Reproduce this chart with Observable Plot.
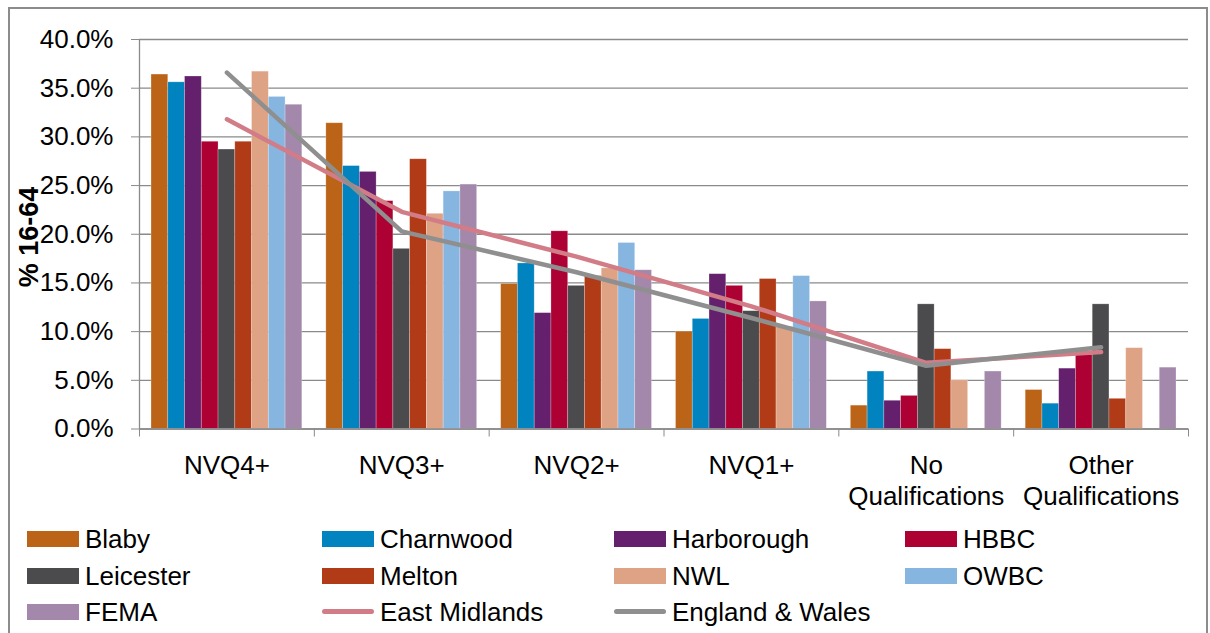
<!DOCTYPE html>
<html><head><meta charset="utf-8">
<script src="https://cdn.jsdelivr.net/npm/d3@7"></script>
<script src="https://cdn.jsdelivr.net/npm/@observablehq/plot@0.6"></script>
<style>
html,body{margin:0;padding:0;background:#fff;}
body{width:1210px;height:633px;overflow:hidden;position:relative;font-family:"Liberation Sans",Arial,Helvetica,sans-serif;}
#frame{position:absolute;left:8px;top:7px;width:1200px;height:700px;border:2px solid #8c8c8c;box-sizing:border-box;}
#chart{position:absolute;left:0;top:0;}
#ylabel{position:absolute;left:28.5px;top:236.5px;transform:translate(-50%,-50%) rotate(-90deg);font-weight:bold;font-size:27px;line-height:1;white-space:nowrap;color:#000;}
.item{position:absolute;display:flex;align-items:center;font-size:26px;line-height:1;white-space:nowrap;color:#000;transform:translateY(-50%);}
.sw{display:inline-block;width:52px;height:16px;margin-right:6px;}
.ln{display:inline-block;width:52px;height:4.5px;border-radius:2.5px;margin:0 6px 0 0;}
</style></head>
<body>
<div id="frame"></div>
<div id="chart"></div>
<div id="ylabel">% 16-64</div>
<div id="legend"></div>
<script>
const categories = ["NVQ4+", "NVQ3+", "NVQ2+", "NVQ1+", "No\nQualifications", "Other\nQualifications"];
const areas = ["Blaby", "Charnwood", "Harborough", "HBBC", "Leicester", "Melton", "NWL", "OWBC", "FEMA"];
const areaColors = ["#BB6418", "#0083BE", "#65206D", "#AD0133", "#4B4B4D", "#B13A17", "#DEA385", "#86B5E0", "#A388AB"];
const blaby      = [36.4, 31.4, 14.9, 10.0, 2.4, 4.0];
const charnwood  = [35.6, 27.0, 17.0, 11.3, 5.9, 2.6];
const harborough = [36.2, 26.4, 11.9, 15.9, 2.9, 6.2];
const hbbc       = [29.5, 23.4, 20.3, 14.7, 3.4, 7.6];
const leicester  = [28.7, 18.5, 14.7, 12.1, 12.8, 12.8];
const melton     = [29.5, 27.7, 15.7, 15.4, 8.2, 3.1];
const nwl        = [36.7, 22.1, 16.5, 10.5, 5.0, 8.3];
const owbc       = [34.1, 24.4, 19.1, 15.7, null, null];
const fema       = [33.3, 25.1, 16.3, 13.1, 5.9, 6.3];
const lineNames = ["East Midlands", "England & Wales"];
const lineColors = ["#D27C87", "#8F8F8F"];
const eastMidlands  = [31.8, 22.3, 17.7, 12.6, 6.8, 7.9];
const englandWales  = [36.6, 20.3, 16.1, 11.4, 6.5, 8.4];
const yTicks = [0, 5, 10, 15, 20, 25, 30, 35, 40];

const barValues = [blaby, charnwood, harborough, hbbc, leicester, melton, nwl, owbc, fema];
const pad = 0.0687, w = (1 - 2 * pad) / areas.length;
const bars = areas.flatMap((a, j) => categories.map((c, i) => ({
  area: a, value: barValues[j][i],
  x1: i - 0.5 + pad + j * w, x2: i - 0.5 + pad + (j + 1) * w
}))).filter(d => d.value != null);
const lineData = [eastMidlands, englandWales].flatMap((s, k) =>
  s.map((v, i) => ({series: lineNames[k], x: i, y: v})));

const chart = Plot.plot({
  width: 1210, height: 520,
  marginLeft: 139, marginRight: 22, marginTop: 39, marginBottom: 91.5,
  style: {fontFamily: '"Liberation Sans", Arial, sans-serif', background: "transparent", color: "#000"},
  x: {type: "linear", domain: [-0.5, categories.length - 0.5], axis: null},
  y: {domain: [0, 40], axis: null},
  color: {domain: areas, range: areaColors},
  marks: [
    Plot.gridY(yTicks, {stroke: "#8a8a8a", strokeOpacity: 1, strokeWidth: 1.3}),
    Plot.rectY(bars, {x1: "x1", x2: "x2", y1: 0, y2: "value", fill: "area", stroke: "#fff", strokeOpacity: 0.35, strokeWidth: 0.7}),
    Plot.ruleX([-0.5], {stroke: "#8a8a8a", strokeWidth: 1.3}),
    Plot.ruleY([0], {stroke: "#8a8a8a", strokeWidth: 1.3}),
    Plot.line(lineData, {x: "x", y: "y", z: "series", stroke: d => lineColors[lineNames.indexOf(d.series)], strokeWidth: 4.5, strokeLinecap: "round", strokeLinejoin: "round"}),
    Plot.axisY({ticks: yTicks, tickSize: 8, tickPadding: 18, tickFormat: d => d.toFixed(1) + "%", fontSize: 26, stroke: "#8a8a8a", fill: "#000", label: null}),
    Plot.axisX({ticks: d3.range(-0.5, categories.length, 1), tickSize: 8, tickFormat: () => "", stroke: "#8a8a8a", label: null}),
    Plot.axisX({ticks: d3.range(0, categories.length), tickSize: 0, tickPadding: 23, tickFormat: i => categories[i], fontSize: 26, lineHeight: 1.2, fill: "#000", label: null})
  ]
});
document.getElementById("chart").appendChild(chart);

// legend
const legendItems = [
  ...areas.map((a, j) => ({name: a, color: areaColors[j], kind: "bar"})),
  ...lineNames.map((n, k) => ({name: n, color: lineColors[k], kind: "line"}))
];
const colLeft = [27, 322, 614, 905];
const rowMid = [539, 575.5, 611.5];
const legend = document.getElementById("legend");
legendItems.forEach((it, idx) => {
  const r = Math.floor(idx / 4), c = idx % 4;
  const el = document.createElement("div");
  el.className = "item";
  el.style.left = colLeft[c] + "px";
  el.style.top = rowMid[r] + "px";
  const sw = document.createElement("span");
  sw.className = it.kind === "bar" ? "sw" : "ln";
  sw.style.background = it.color;
  el.appendChild(sw);
  el.appendChild(document.createTextNode(it.name));
  legend.appendChild(el);
});
</script>
</body></html>
